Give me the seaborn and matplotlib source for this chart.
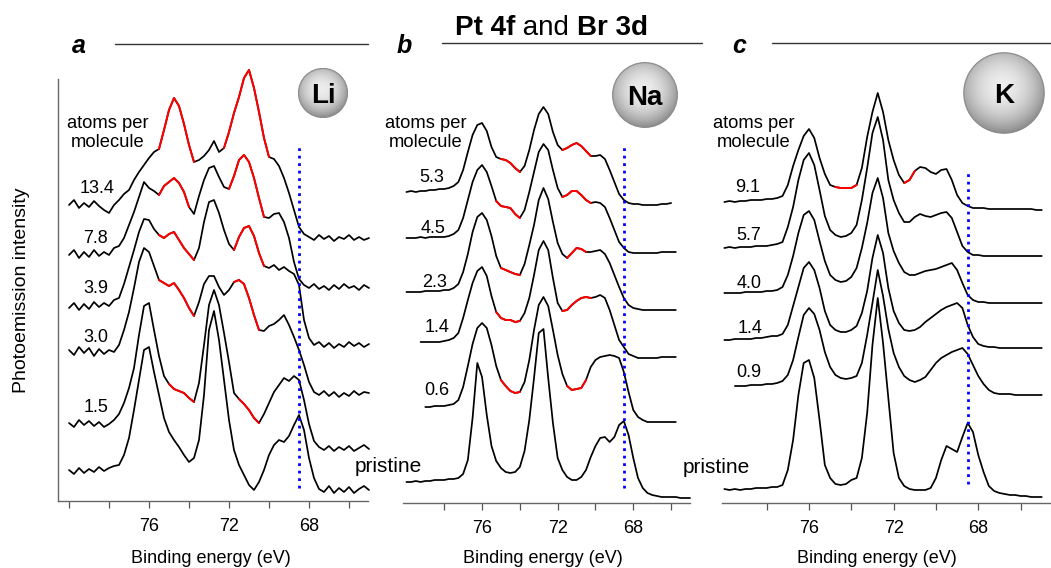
import numpy as np
import pandas as pd
import matplotlib
matplotlib.use("Agg")
import matplotlib.pyplot as plt
import seaborn as sns
from matplotlib.patches import Circle
from matplotlib.lines import Line2D

nan = np.nan

# Binding-energy sampling of every spectrum (eV), high to low
energy = np.arange(80.0, 64.99, -0.25)

# ---------------- Li: photoemission intensity (arb. units, stacked) ----------------
li_13_4 = [296, 301, 293, 298, 294, 300, 295, 291, 288, 296, 301, 307, 311,
           321, 329, 336, 343, 349, 352, 371, 391, 403, 395, 377, 356,
           339, 341, 345, 351, 360, 349, 353, 369, 388, 404, 423, 431,
           413, 389, 363, 344, 342, 335, 323, 308, 291, 274, 267, 264,
           261, 266, 262, 265, 260, 264, 262, 266, 261, 264, 261, 263]
li_7_8 = [246, 251, 243, 249, 244, 251, 245, 249, 246, 253, 255, 263, 276,
          289, 304, 319, 313, 310, 306, 315, 319, 323, 318, 309, 294,
          287, 305, 321, 333, 335, 324, 314, 312, 325, 341, 346, 339,
          323, 303, 284, 283, 287, 288, 279, 263, 239, 222, 216, 213,
          217, 212, 215, 211, 216, 212, 217, 213, 215, 211, 216, 213]
li_3_9 = [193, 198, 191, 197, 192, 199, 194, 198, 195, 201, 203, 217, 234,
          251, 269, 282, 281, 272, 266, 263, 267, 269, 261, 253, 247,
          241, 253, 279, 299, 301, 288, 271, 257, 251, 264, 273, 275,
          265, 248, 235, 233, 236, 231, 234, 230, 227, 216, 181, 163,
          156, 159, 154, 158, 153, 157, 154, 159, 155, 158, 154, 157]
li_3_0 = [151, 146, 154, 148, 153, 145, 152, 147, 151, 149, 156, 171, 189,
          213, 239, 253, 249, 235, 221, 218, 215, 218, 211, 203, 193,
          185, 199, 217, 225, 225, 214, 206, 211, 219, 221, 217, 203,
          186, 171, 170, 175, 177, 181, 186, 176, 164, 151, 136, 119,
          109, 106, 110, 105, 109, 104, 108, 105, 110, 106, 109, 108]
li_1_5 = [78, 74, 81, 76, 80, 75, 79, 74, 77, 81, 87, 98, 113,
          133, 166, 195, 198, 171, 145, 125, 117, 112, 110, 108, 103,
          99, 118, 156, 196, 211, 196, 168, 139, 108, 102, 97, 91,
          83, 78, 87, 98, 109, 116, 123, 120, 125, 121, 101, 77,
          60, 54, 51, 55, 50, 54, 51, 55, 50, 53, 56, 52]
li_pristine = [31, 27, 33, 28, 32, 29, 34, 30, 33, 35, 36, 46, 63,
               91, 121, 151, 154, 129, 106, 83, 69, 61, 54, 46, 39,
               43, 61, 106, 171, 190, 161, 121, 81, 51, 36, 26, 16,
               11, 19, 31, 46, 56, 61, 59, 65, 76, 86, 71, 43,
               23, 12, 9, 15, 8, 13, 9, 14, 8, 12, 15, 11]

# ---------------- Na ----------------
na_5_3 = [311, 312, 311, 312, 312, 313, 313, 314, 314, 315, 317, 321, 333,
          351, 368, 378, 380, 372, 356, 346, 344, 343, 340, 335, 331,
          337, 353, 373, 389, 396, 389, 371, 358, 353, 355, 358, 360,
          357, 352, 347, 347, 348, 344, 333, 321, 309, 303, 300, 299,
          299, 298, 298, 298, 298, 299, 299, 300, nan, nan, nan, nan]
na_4_5 = [265, 265, 265, 266, 265, 266, 266, 266, 266, 267, 269, 273, 285,
          303, 321, 333, 338, 331, 317, 302, 297, 296, 295, 289, 285,
          293, 311, 331, 351, 359, 353, 333, 315, 306, 308, 312, 312,
          308, 303, 300, 301, 300, 296, 285, 273, 261, 255, 251, 250,
          250, 250, 250, 250, 250, 251, 251, 251, 251, nan, nan, nan]
na_2_3 = [211, 211, 211, 211, 212, 212, 212, 212, 213, 213, 215, 219, 231,
          249, 271, 286, 290, 283, 267, 247, 235, 233, 231, 229, 228,
          239, 258, 278, 303, 315, 304, 281, 260, 249, 245, 250, 255,
          254, 251, 251, 252, 253, 249, 240, 228, 216, 205, 198, 195,
          194, 193, 193, 193, 193, 193, 193, 193, 193, nan, nan, nan]
na_1_4 = [nan, nan, nan, 161, 161, 161, 161, 161, 162, 163, 165, 170, 185,
          203, 220, 232, 236, 227, 207, 191, 185, 183, 183, 181, 182,
          190, 205, 228, 253, 262, 253, 225, 200, 192, 193, 198, 202,
          205, 206, 205, 206, 208, 205, 193, 178, 163, 156, 149, 147,
          145, 145, 145, 145, 145, 146, 146, 146, 146, nan, nan, nan]
na_0_6 = [nan, nan, nan, nan, 96, 96, 97, 97, 97, 98, 99, 103, 116,
          137, 159, 175, 180, 175, 158, 137, 123, 117, 112, 110, 111,
          121, 143, 173, 198, 206, 197, 173, 148, 129, 117, 113, 114,
          115, 123, 136, 143, 146, 147, 148, 147, 145, 131, 111, 93,
          86, 83, 81, 81, 81, 81, 81, 81, 81, nan, nan, nan]
na_pristine = [21, 21, 22, 21, 22, 22, 23, 23, 23, 24, 24, 25, 29,
               43, 85, 140, 126, 88, 57, 42, 35, 31, 30, 31, 36,
               52, 83, 125, 170, 174, 125, 80, 45, 33, 26, 23, 23,
               26, 33, 46, 57, 65, 66, 61, 66, 78, 82, 68, 45,
               25, 15, 10, 8, 7, 6, 6, 6, 6, 5, 5, 5]

# ---------------- K ----------------
k_9_1 = [301, 302, 301, 302, 302, 303, 303, 303, 304, 304, 305, 307, 318,
         337, 353, 367, 374, 365, 345, 329, 318, 316, 315, 315, 315,
         318, 335, 366, 391, 410, 391, 363, 343, 328, 320, 323, 332,
         336, 335, 331, 329, 333, 334, 323, 308, 300, 297, 295, 295,
         295, 294, 294, 294, 294, 294, 294, 294, 294, 294, 293, 293]
k_5_7 = [255, 256, 255, 256, 256, 256, 257, 257, 257, 258, 259, 261, 276,
         296, 323, 343, 350, 338, 313, 287, 273, 268, 266, 267, 270,
         278, 303, 335, 370, 386, 363, 323, 303, 290, 281, 281, 286,
         289, 287, 286, 288, 290, 291, 285, 271, 257, 251, 248, 248,
         247, 247, 247, 247, 247, 247, 247, 247, 247, 247, 247, 247]
k_4_0 = [210, 210, 210, 210, 211, 211, 211, 211, 212, 212, 213, 216, 228,
         247, 270, 288, 292, 283, 262, 242, 228, 223, 221, 222, 226,
         235, 255, 280, 310, 325, 305, 270, 252, 240, 231, 228, 228,
         230, 232, 233, 234, 236, 238, 240, 233, 220, 208, 203, 201,
         201, 200, 200, 200, 200, 200, 200, 200, 200, 200, 200, 200]
k_1_4 = [163, 163, 164, 164, 164, 164, 165, 165, 166, 167, 167, 169, 178,
         197, 216, 235, 241, 233, 215, 192, 178, 173, 171, 171, 173,
         177, 190, 212, 245, 268, 250, 215, 192, 180, 173, 172, 173,
         176, 181, 185, 189, 193, 196, 198, 200, 195, 178, 166, 159,
         157, 156, 156, 155, 155, 155, 155, 155, 155, 155, 155, 155]
k_0_9 = [nan, nan, 117, 117, 117, 118, 118, 118, 119, 119, 120, 122, 128,
         143, 166, 188, 195, 189, 173, 151, 136, 128, 125, 124, 125,
         127, 140, 168, 200, 233, 207, 174, 150, 136, 127, 123, 121,
         123, 126, 133, 140, 145, 148, 151, 153, 155, 149, 138, 127,
         119, 113, 110, 109, 109, 109, 108, 108, 108, 108, 108, 108]
k_pristine = [14, 13, 14, 13, 14, 14, 15, 15, 15, 16, 16, 18, 33,
              63, 108, 140, 143, 125, 83, 38, 25, 19, 18, 19, 23,
              25, 45, 90, 158, 205, 160, 105, 50, 25, 17, 14, 13,
              13, 13, 15, 25, 43, 57, 54, 51, 66, 80, 71, 48,
              31, 17, 12, 10, 9, 8, 8, 7, 7, 6, 6, 6]

# Energy windows (eV, high -> low) of the intercalation-induced components
li_red = {"13.4": [(75.6, 73.7), (72.3, 70.0)], "7.8": [(75.55, 73.9), (72.1, 70.2)],
          "3.9": [(75.5, 73.7), (71.75, 70.2)], "3.0": [(75.5, 73.75), (71.85, 70.45)],
          "1.5": [(75.05, 73.75), (71.55, 70.5)]}
na_red = {"5.3": [(75.2, 74.0), (71.75, 70.2)], "4.5": [(75.25, 74.0), (71.75, 70.25)],
          "2.3": [(75.15, 74.0), (71.6, 70.5)], "1.4": [(75.25, 74.0), (71.75, 70.25)],
          "0.6": [(75.1, 74.0), (71.5, 70.5)]}
k_red = {"9.1": [(74.95, 73.75), (71.6, 70.9)]}

li_curves = {"13.4": li_13_4, "7.8": li_7_8, "3.9": li_3_9, "3.0": li_3_0,
             "1.5": li_1_5, "pristine": li_pristine}
na_curves = {"5.3": na_5_3, "4.5": na_4_5, "2.3": na_2_3, "1.4": na_1_4,
             "0.6": na_0_6, "pristine": na_pristine}
k_curves = {"9.1": k_9_1, "5.7": k_5_7, "4.0": k_4_0, "1.4": k_1_4,
            "0.9": k_0_9, "pristine": k_pristine}

br_edge = 68.5  # Br 3d reference position (eV)

sns.set_theme(style="ticks")
plt.rcParams["font.family"] = ["Liberation Sans", "DejaVu Sans"]
plt.rcParams["text.color"] = "black"
plt.rcParams["axes.labelcolor"] = "black"
plt.rcParams["xtick.color"] = "black"

W, H = 1051, 568
fig = plt.figure(figsize=(W / 100, H / 100), dpi=100)


def px_axes(left, top, right, bottom):
    return fig.add_axes([left / W, 1 - bottom / H, (right - left) / W, (bottom - top) / H])


def ftext(x, y, s, **kw):
    return fig.text(x / W, 1 - y / H, s, **kw)


def draw_spectra(ax, curves, reds):
    for name, vals in curves.items():
        df = pd.DataFrame({"energy": energy, "intensity": vals}).dropna()
        sns.lineplot(data=df, x="energy", y="intensity", ax=ax, color="black",
                     lw=1.25, estimator=None, sort=False, legend=False, clip_on=False)
        for hi, lo in reds.get(name, []):
            seg = df[(df["energy"] <= hi + 1e-6) & (df["energy"] >= lo - 1e-6)]
            sns.lineplot(data=seg, x="energy", y="intensity", ax=ax, color="#ff0000",
                         lw=1.45, estimator=None, sort=False, legend=False, clip_on=False)


panels = [
    dict(box=(58, 79, 368, 501), xlim=(80.55, 65.05), ticks=[80, 78, 76, 74, 72, 70, 68, 66],
         curves=li_curves, reds=li_red, dots=(13, 354), left=True, xlab=0.4935),
    dict(box=(403, 79, 690, 503), xlim=(80.18, 65.0), ticks=[78, 76, 74, 72, 70, 68, 66],
         curves=na_curves, reds=na_red, dots=(15, 356), left=False, xlab=0.488),
    dict(box=(722, 79, 1050, 503), xlim=(80.11, 64.61), ticks=[78, 76, 74, 72, 70, 68, 66],
         curves=k_curves, reds=k_red, dots=(19, 330), left=False, xlab=0.4726),
]

for p in panels:
    l, t, r, b = p["box"]
    ax = px_axes(l, t, r, b)
    ax.patch.set_alpha(0)
    draw_spectra(ax, p["curves"], p["reds"])
    ax.vlines(br_edge, p["dots"][0], p["dots"][1], colors="#0000ff", lw=2.0,
              linestyles=(0, (1, 1.7)), zorder=5)
    ax.set_xlim(*p["xlim"])
    ax.set_ylim(0, b - t)
    ax.set_xticks(p["ticks"])
    ax.set_xticklabels([str(v) if v in (76, 72, 68) else "" for v in p["ticks"]])
    ax.set_yticks([])
    ax.set_ylabel("")
    ax.set_xlabel("Binding energy (eV)", fontsize=13, color="black")
    ax.xaxis.set_label_coords(p["xlab"], -(550 - b) / (b - t))
    sns.despine(ax=ax, left=not p["left"])
    ax.tick_params(axis="x", direction="out", length=5, width=0.9, color="#555555",
                   pad=7.5, labelsize=13, labelcolor="black")
    for s in ("left", "bottom"):
        ax.spines[s].set_color("#666666")
        ax.spines[s].set_linewidth(1.0)

# curve annotations
num = dict(fontsize=13, ha="center", va="baseline", color="black")
word = dict(fontsize=13.2, ha="center", va="baseline", color="black")
for x0 in (108, 426, 754):
    ftext(x0, 128, "atoms per", **word)
    ftext(x0, 147, "molecule", **word)
for x0, y0, s in [(97, 193, "13.4"), (95, 243, "7.8"), (96, 293, "3.9"), (96, 342, "3.0"),
                  (96, 412, "1.5"),
                  (432, 182, "5.3"), (433, 233, "4.5"), (435, 287, "2.3"), (437, 332, "1.4"),
                  (437, 395, "0.6"),
                  (748, 192, "9.1"), (749, 240, "5.7"), (749, 288, "4.0"), (750, 333, "1.4"),
                  (749, 377, "0.9")]:
    ftext(x0, y0, s, **num)
ftext(355, 472, "pristine", fontsize=15, ha="left", va="baseline", color="black")
ftext(683, 473, "pristine", fontsize=15, ha="left", va="baseline", color="black")

# panel letters and header rules
for x0, s in [(72, "a"), (397, "b"), (732, "c")]:
    ftext(x0, 53, s, fontsize=18, fontweight="bold", style="italic", ha="left",
          va="baseline", color="black")
for x1, x2, y in [(115, 368, 44), (442, 702, 43), (772, 1051, 43)]:
    fig.add_artist(Line2D([x1 / W, x2 / W], [1 - y / H, 1 - y / H], color="#333333", lw=1.0))

# header with mixed weights
hdr = 20
t1 = ftext(455, 35, "Pt 4f", fontsize=hdr, fontweight="bold", ha="left", va="baseline",
           color="black")
t2 = fig.axes[0].annotate(" and ", xy=(1, 0), xycoords=t1, fontsize=hdr, va="bottom",
                          ha="left", annotation_clip=False, color="black")
t3 = fig.axes[0].annotate("Br 3d", xy=(1, 0), xycoords=t2, fontsize=hdr, fontweight="bold",
                          va="bottom", ha="left", annotation_clip=False, color="black")

ftext(22, 290, "Photoemission intensity", fontsize=14, rotation=90, ha="center",
      va="center", color="black")

# alkali atom spheres
yy, xx = np.mgrid[-1:1:240j, -1:1:240j]
shade = 0.93 - 0.30 * ((xx + 0.05) ** 2 + (yy - 0.15) ** 2)
for cx, cy, rad, sym in [(323, 93, 25, "Li"), (645, 95, 33, "Na"), (1004, 93, 41, "K")]:
    bax = px_axes(cx - rad, cy - rad, cx + rad, cy + rad)
    bax.set_xlim(-1, 1)
    bax.set_ylim(-1, 1)
    bax.axis("off")
    im = bax.imshow(shade, extent=[-1, 1, -1, 1], origin="lower", cmap="gray",
                    vmin=0, vmax=1, interpolation="bilinear")
    circ = Circle((0, 0), 0.98, transform=bax.transData, facecolor="none",
                  edgecolor="#8c8c8c", lw=0.9)
    bax.add_patch(circ)
    im.set_clip_path(circ)
    cap = 20 * 100 / 72 * 0.72
    bax.text(0, -cap / 2 / rad, sym, fontsize=20, fontweight="bold", ha="center",
             va="baseline", color="black")

fig.savefig("out.png", dpi=100)
